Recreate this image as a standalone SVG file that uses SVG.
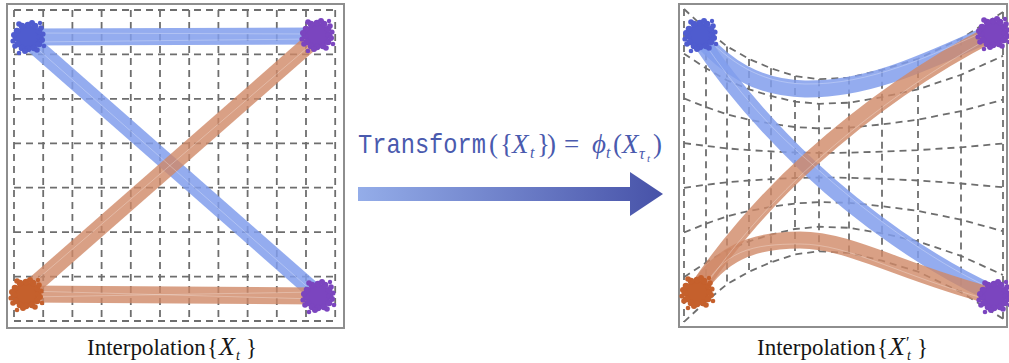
<svg xmlns="http://www.w3.org/2000/svg" width="1009" height="363" viewBox="0 0 1009 363">
  <style>
    .frame{fill:#fff;stroke:#8e8e8e;stroke-width:2}
    .grid{fill:none;stroke:#6e6e6e;stroke-width:1.8;stroke-dasharray:7 5}
    .bandB{fill:none;stroke:#819dec;stroke-width:17;stroke-opacity:.85;stroke-linecap:butt}
    .bandO{fill:none;stroke:#cf8867;stroke-width:17;stroke-opacity:.8;stroke-linecap:butt}
    .fiber{fill:none;stroke:#fff;stroke-width:.8;stroke-opacity:.35}
    .lbl{font-family:"Liberation Serif","DejaVu Serif",serif;font-size:23px;fill:#161616}
    .it{font-style:italic}
    .math{font-family:"Liberation Serif","DejaVu Serif",serif;font-size:27px;fill:#4a5aae}
    .mono{font-family:"Liberation Mono","DejaVu Sans Mono",monospace;font-size:28px;fill:#4a5aae}
  </style>
  <defs>
    <linearGradient id="arrowGrad" x1="358" y1="0" x2="663" y2="0" gradientUnits="userSpaceOnUse">
      <stop offset="0" stop-color="#94ade9"/>
      <stop offset="1" stop-color="#4752a8"/>
    </linearGradient>
    <!-- point cloud used for every endpoint cluster -->
    <g id="blob">
      <circle r="12"/>
      <circle cx="-11" cy="-6" r="3.3"/><circle cx="-12" cy="1" r="3.3"/><circle cx="-10" cy="7" r="3.3"/>
      <circle cx="-6" cy="11" r="3.3"/><circle cx="0" cy="12" r="3.3"/><circle cx="6" cy="11" r="3.3"/>
      <circle cx="11" cy="7" r="3.3"/><circle cx="12" cy="0" r="3.3"/><circle cx="11" cy="-6" r="3.3"/>
      <circle cx="7" cy="-11" r="3.3"/><circle cx="0" cy="-12" r="3.3"/><circle cx="-6" cy="-11" r="3.3"/>
      <circle cx="-14" cy="-2" r="3"/><circle cx="14" cy="3" r="3"/><circle cx="-3" cy="14" r="3"/>
      <circle cx="4" cy="-14" r="3"/><circle cx="13" cy="-9" r="2.8"/><circle cx="-13" cy="9" r="2.8"/>
      <circle cx="9" cy="13" r="2.8"/><circle cx="-9" cy="-13" r="2.8"/><circle cx="15" cy="-3" r="2.6"/>
      <circle cx="-15" cy="4" r="2.6"/><circle cx="-9" cy="16" r="2.3"/><circle cx="16" cy="9" r="2.3"/>
      <circle cx="12" cy="-14" r="2.2"/>
    </g>
  </defs>

  <!-- left panel: straight interpolation on a regular grid -->
  <g id="panel-left">
    <rect class="frame" x="7" y="4" width="337" height="324"/>
    <path class="grid" d="M14,10V321M43.2,10V321M72.4,10V321M101.6,10V321M130.8,10V321M160,10V321M189.2,10V321M218.4,10V321M247.6,10V321M276.8,10V321M306,10V321M335.2,10V321
      M14,10H335M14,54.4H335M14,98.9H335M14,143.3H335M14,187.7H335M14,232.1H335M14,276.6H335M14,321H335"/>
    <g id="paths-left">
      <path class="bandB" d="M28,37L316,36"/>
      <path class="bandB" d="M28,40L316,293"/>
      <path class="bandO" d="M25,293L317,37"/>
      <path class="bandO" d="M25,294L318,296"/>
      <path class="fiber" d="M30,33L315,34M30,42L314,39M32,44L312,291M26,289L314,42M28,297L316,292M28,291L316,299"/>
    </g>
    <use href="#blob" x="28" y="37" fill="#4f5ccf"/>
    <use href="#blob" x="317" y="35" fill="#7b45bf"/>
    <use href="#blob" x="26" y="294" fill="#c5602c"/>
    <use href="#blob" x="318" y="296" fill="#7b45bf"/>
  </g>

  <!-- transform arrow and its formula -->
  <g id="transform-arrow">
    <path d="M358,187H630V172L663,194L630,216V201H358Z" fill="url(#arrowGrad)"/>
    <text class="mono" x="358" y="153" textLength="128" lengthAdjust="spacingAndGlyphs">Transform</text>
    <text class="math"><tspan x="489" y="153">(</tspan><tspan x="500" y="153">{</tspan><tspan class="it" x="512" y="153">X</tspan><tspan class="it" x="530" y="158" font-size="16">t</tspan><tspan x="537" y="153">}</tspan><tspan x="547" y="153">)</tspan><tspan x="564" y="153">=</tspan><tspan class="it" x="592" y="153">ϕ</tspan><tspan class="it" x="606" y="158" font-size="16">t</tspan><tspan x="613" y="153">(</tspan><tspan class="it" x="622" y="153">X</tspan><tspan class="it" x="639" y="159" font-size="16">τ</tspan><tspan class="it" x="647" y="162" font-size="11">t</tspan><tspan x="653" y="153">)</tspan></text>
  </g>

  <!-- right panel: transformed interpolation on the warped grid -->
  <g id="panel-right">
    <rect class="frame" x="679" y="4" width="328" height="323"/>
    <g class="grid">
      <polyline points="684,9 706,29.3 727,46.4 749,58.9 771,68.3 795,76.1 819,79.2 849,77.6 882,69.8 918,58.9 961,38.6 1003,12.1"/>
      <polyline points="684,53.7 706,68.2 727,80.4 749,89.3 771,96 795,101.6 819,103.8 849,102.7 882,97.1 918,89.3 961,74.8 1003,55.9"/>
      <polyline points="684,98.4 706,107.1 727,114.4 749,119.7 771,123.7 795,127 819,128.4 849,127.7 882,124.4 918,119.7 961,111.1 1003,99.7"/>
      <polyline points="684,143.1 706,145.9 727,148.4 749,150.1 771,151.4 795,152.5 819,153 849,152.7 882,151.6 918,150.1 961,147.3 1003,143.5"/>
      <polyline points="684,187.8 706,184.8 727,182.3 749,180.5 771,179.1 795,178 819,177.5 849,177.8 882,178.9 918,180.5 961,183.5 1003,187.3"/>
      <polyline points="684,232.5 706,223.7 727,216.3 749,210.9 771,206.9 795,203.5 819,202.1 849,202.8 882,206.2 918,210.9 961,219.7 1003,231.2"/>
      <polyline points="684,277.2 706,262.6 727,250.3 749,241.3 771,234.6 795,229 819,226.7 849,227.8 882,233.4 918,241.3 961,255.9 1003,275"/>
      <polyline points="684,321.9 706,301.5 727,284.2 749,271.7 771,262.3 795,254.4 819,251.3 849,252.9 882,260.7 918,271.7 961,292.1 1003,318.8"/>
      <path d="M684,9V321.9M706,29.3V301.5M727,46.4V284.2M749,58.9V271.7M771,68.3V262.3M795,76.1V254.4M819,79.2V251.3M849,77.6V252.9M882,69.8V260.7M918,58.9V271.7M961,38.6V292.1M1003,12.1V318.8"/>
    </g>
    <g id="paths-right">
      <path class="bandB" d="M700,38C725,65 755,88 805,89C870,90 930,60 993,32"/>
      <path class="bandB" d="M700,40C730,85 770,130 810,168C860,215 930,265 992,293"/>
      <path class="bandO" d="M697,290C720,255 760,205 810,160C860,115 920,70 993,33"/>
      <path class="bandO" d="M697,290C720,255 750,240 800,240C850,240 900,272 992,296"/>
      <path class="fiber" d="M703,34C728,60 758,83 805,84C870,85 930,56 990,29M705,44C735,88 772,131 812,164C862,210 930,260 990,288M700,294C723,259 763,209 813,164C862,120 922,75 990,38M700,294C723,250 752,244 800,244C850,244 900,276 990,300"/>
    </g>
    <use href="#blob" x="700" y="35" fill="#4f5ccf"/>
    <use href="#blob" x="993" y="33" fill="#7b45bf"/>
    <use href="#blob" x="697" y="292" fill="#c5602c"/>
    <use href="#blob" x="994" y="296" fill="#7b45bf"/>
  </g>

  <!-- captions -->
  <g id="caption-left">
    <text class="lbl"><tspan x="87" y="355">Interpolation</tspan><tspan x="207" y="355">{</tspan><tspan class="it" x="219" y="355" font-size="26">X</tspan><tspan class="it" x="236" y="360" font-size="14">t</tspan><tspan x="246" y="355">}</tspan></text>
  </g>
  <g id="caption-right">
    <text class="lbl"><tspan x="757" y="355">Interpolation</tspan><tspan x="877" y="355">{</tspan><tspan class="it" x="889" y="355" font-size="26">X</tspan><tspan x="906" y="348" font-size="16">′</tspan><tspan class="it" x="907" y="360" font-size="14">t</tspan><tspan x="917" y="355">}</tspan></text>
  </g>
</svg>
